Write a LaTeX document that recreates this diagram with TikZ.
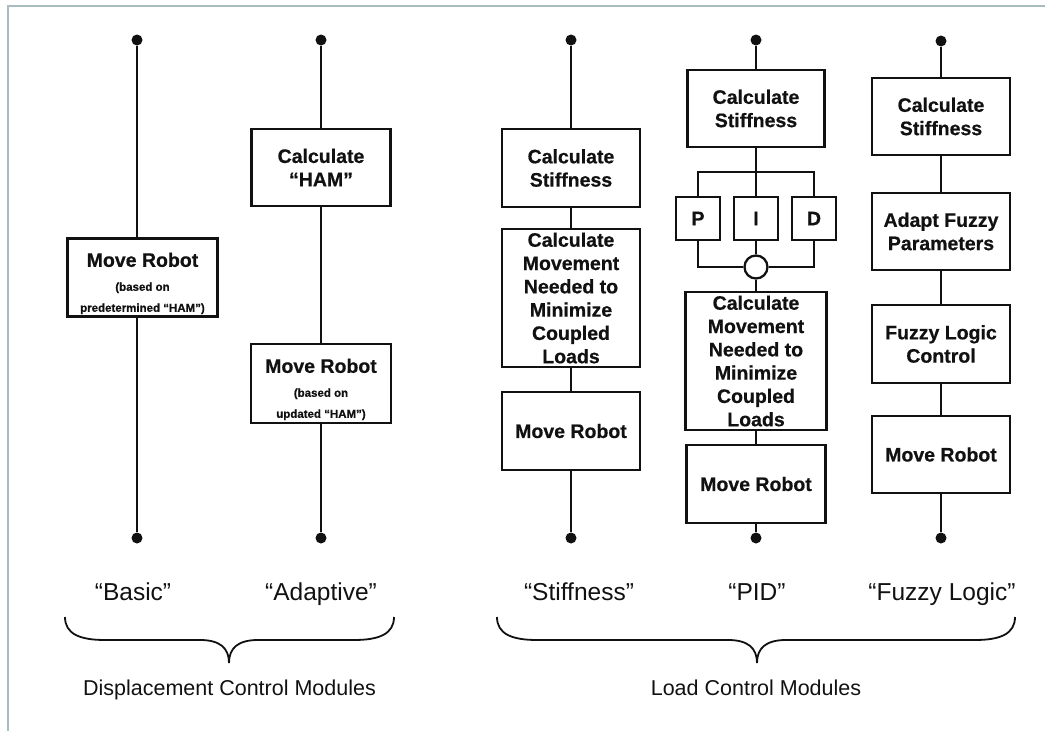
\documentclass[tikz,border=0pt]{standalone}
\usepackage{fontspec}
\setmainfont{Liberation Sans}[BoldFeatures={FakeBold=0.6}]
\definecolor{framec}{HTML}{A9BDC1}
\definecolor{ink}{HTML}{111111}
\tikzset{
  box/.style={draw=ink, line width=2.3pt, fill=white, inner sep=0pt, align=center, text=ink,
    font=\bfseries\fontsize{19.5}{23.3}\selectfont},
  smallbox/.style={box, font=\bfseries\fontsize{11.5}{21}\selectfont},
  dotn/.style={circle, fill=ink, inner sep=0pt, minimum size=11pt},
  wire/.style={draw=ink, line width=2.6pt},
  sumn/.style={circle, draw=ink, fill=white, line width=2.3pt, inner sep=0pt, minimum size=23pt},
  lbl/.style={text=ink, inner sep=0pt, anchor=base, font=\fontsize{24.5}{28}\selectfont},
  grp/.style={text=ink, inner sep=0pt, anchor=base, font=\fontsize{21.5}{26}\selectfont},
  bracel/.style={draw=ink, line width=1.8pt},
  framel/.style={draw=framec, line width=2.4pt}
}
\newcommand{\bigline}[1]{{\fontsize{19.5}{23.3}\selectfont\rule{0pt}{26pt}#1}}
\begin{document}
\begin{tikzpicture}[x=1pt,y=-1pt]
\useasboundingbox (0,0) rectangle (1045,731);
\draw[framel] (8,731) -- (8,6) -- (1045,6);

% ---------- Basic ----------
\node[dotn] (b1) at (137,40) {};
\node[dotn] (b2) at (137,538) {};
\node[smallbox, minimum width=150pt, minimum height=78pt] (bmr) at (142.5,277.5)
  {\bigline{Move Robot}\\[3pt](based on\\predetermined “HAM”)};
\draw[wire] (b1) -- (b1 |- bmr.north);
\draw[wire] (b2 |- bmr.south) -- (b2);

% ---------- Adaptive ----------
\node[dotn] (a1) at (321,40) {};
\node[box, minimum width=139pt, minimum height=77pt] (ach) at (321,167.5) {Calculate\\“HAM”};
\node[smallbox, minimum width=140pt, minimum height=79pt] (amr) at (321,383.5)
  {\bigline{Move Robot}\\[3pt](based on\\updated “HAM”)};
\node[dotn] (a2) at (321,538) {};
\draw[wire] (a1) -- (ach) -- (amr) -- (a2);

% ---------- Stiffness ----------
\node[dotn] (s1) at (571,40) {};
\node[box, minimum width=138pt, minimum height=78pt] (scs) at (571,168) {Calculate\\Stiffness};
\node[box, minimum width=138pt, minimum height=138pt] (scm) at (571,298)
  {Calculate\\Movement\\Needed to\\Minimize\\Coupled\\Loads};
\node[box, minimum width=138pt, minimum height=78pt] (smr) at (571,431) {Move Robot};
\node[dotn] (s2) at (571,538) {};
\draw[wire] (s1) -- (scs) -- (scm) -- (smr) -- (s2);

% ---------- PID ----------
\node[dotn] (p1) at (756,40) {};
\node[box, minimum width=137pt, minimum height=77pt] (pcs) at (756,108.5) {Calculate\\Stiffness};
\coordinate (br) at (756,172);
\node[box, minimum width=44pt, minimum height=43pt] (pP) at (698,218.5) {P};
\node[box, minimum width=44pt, minimum height=43pt] (pI) at (756,218.5) {I};
\node[box, minimum width=44pt, minimum height=43pt] (pD) at (814,218.5) {D};
\node[sumn] (sum) at (756,267) {};
\node[box, minimum width=141pt, minimum height=138pt] (pcm) at (756,361)
  {Calculate\\Movement\\Needed to\\Minimize\\Coupled\\Loads};
\node[box, minimum width=139pt, minimum height=78pt] (pmr) at (756,484) {Move Robot};
\node[dotn] (p2) at (756,538) {};
\draw[wire] (p1) -- (pcs);
\draw[wire] (pcs) -- (br) -- (pI);
\draw[wire] (pP.north) |- (br) -| (pD.north);
\draw[wire] (pP.south) |- (sum.west);
\draw[wire] (pD.south) |- (sum.east);
\draw[wire] (pI) -- (sum);
\draw[wire] (sum) -- (pcm) -- (pmr) -- (p2);

% ---------- Fuzzy Logic ----------
\node[dotn] (f1) at (941,41) {};
\node[box, minimum width=138pt, minimum height=77pt] (fcs) at (941,116.5) {Calculate\\Stiffness};
\node[box, minimum width=138pt, minimum height=77pt] (fap) at (941,231.5) {Adapt Fuzzy\\Parameters};
\node[box, minimum width=138pt, minimum height=78pt] (flc) at (941,344) {Fuzzy Logic\\Control};
\node[box, minimum width=138pt, minimum height=77pt] (fmr) at (941,454.5) {Move Robot};
\node[dotn] (f2) at (941,538) {};
\draw[wire] (f1) -- (fcs) -- (fap) -- (flc) -- (fmr) -- (f2);

% ---------- labels ----------
\node[lbl] (lb) at (133,600) {“Basic”};
\node[lbl] (la) at (321,600) {“Adaptive”};
\node[lbl] (ls) at (579,600) {“Stiffness”};
\node[lbl] (lp) at (757,600) {“PID”};
\node[lbl] (lf) at (942,600) {“Fuzzy Logic”};

% ---------- braces ----------
\draw[bracel] (65,617) .. controls (65,634) and (80,640) .. (105,640) -- (200,640)
  .. controls (220,640) and (229,648) .. (229,663)
  .. controls (229,648) and (238,640) .. (258,640) -- (354,640)
  .. controls (379,640) and (394,634) .. (394,617);
\draw[bracel] (497,617) .. controls (497,634) and (512,640) .. (537,640) -- (728,640)
  .. controls (748,640) and (757,648) .. (757,663)
  .. controls (757,648) and (766,640) .. (786,640) -- (975,640)
  .. controls (1000,640) and (1015,634) .. (1015,617);

\node[grp] (gd) at (229.5,695) {Displacement Control Modules};
\node[grp] (gl) at (756,695) {Load Control Modules};
\end{tikzpicture}
\end{document}
